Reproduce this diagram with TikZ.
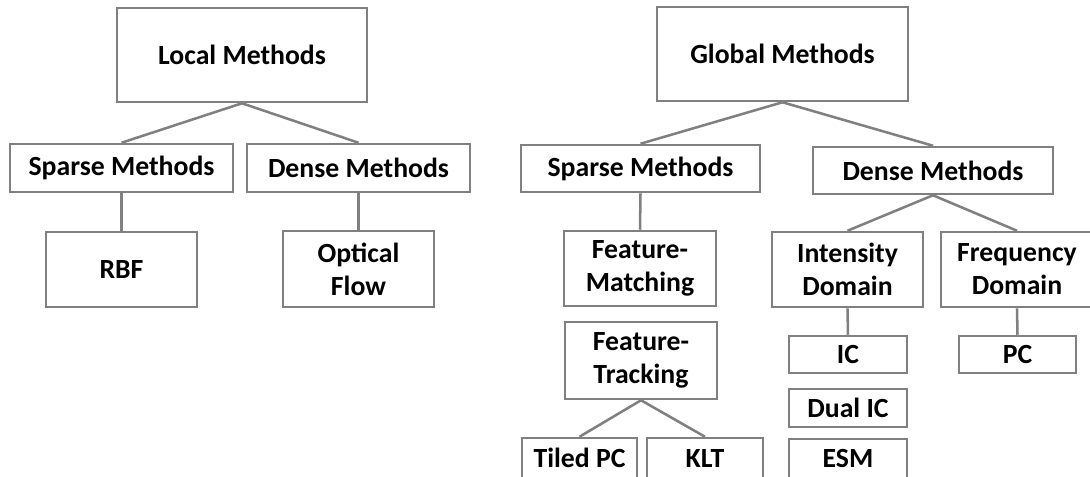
\documentclass[tikz,border=0pt]{standalone}
\usepackage{fontspec}
\setmainfont{Carlito}
\begin{document}
\begin{tikzpicture}[x=0.75pt,y=-0.75pt,
  line width=1.9pt,
  bx/.style 2 args={draw=boxgray, fill=white, rectangle, inner sep=0pt,
    minimum width=#1*0.75pt, minimum height=#2*0.75pt, align=center,
    font=\fontsize{20.8}{24.7}\selectfont\bfseries},
  link/.style={draw=boxgray, line width=1.9pt}]
\definecolor{boxgray}{RGB}{128,128,128}
\clip (0,0) rectangle (1090,476);
\fill[white] (0,0) rectangle (1090,476);

% local methods tree
\node[bx={250}{94}] (lm)  at (242,55)     {Local Methods};
\node[bx={223}{48}] (ls)  at (121.5,168)  {Sparse Methods};
\node[bx={223}{48}] (ld)  at (358.5,168)  {Dense Methods};
\node[bx={151}{75}] (rbf) at (121.5,269.5){RBF};
\node[bx={151}{76}] (of)  at (358.5,269)  {Optical\\Flow};

% global methods tree
\node[bx={251}{94}] (gm)  at (782.5,54)   {Global Methods};
\node[bx={239}{47}] (gs)  at (640.5,168.5){Sparse Methods};
\node[bx={240}{47}] (gd)  at (933,170.5)  {Dense Methods};
\node[bx={152}{75}] (fm)  at (640,268.5)  {Feature-\\Matching};
\node[bx={152}{77}] (ft)  at (641,360.5)  {Feature-\\Tracking};
\node[bx={115}{40}] (tpc) at (579.5,458)  {Tiled PC};
\node[bx={116}{40}] (klt) at (705,458)    {KLT};
\node[bx={151}{75}] (id)  at (847.5,269.5){Intensity\\Domain};
\node[bx={152}{75}] (fd)  at (1017,269.5) {Frequency\\Domain};
\node[bx={118}{37}] (ic)  at (848,354.5)  {IC};
\node[bx={118}{38}] (dic) at (848,408)    {Dual IC};
\node[bx={118}{39}] (esm) at (848,458.5)  {ESM};
\node[bx={117}{37}] (pc)  at (1017.5,354.5){PC};

% connectors
\draw[link] (lm.south) -- (ls.north);
\draw[link] (lm.south) -- (ld.north);
\draw[link] (ls.south) -- (rbf.north);
\draw[link] (ld.south) -- (of.north);
\draw[link] (gm.south) -- (gs.north);
\draw[link] (gm.south) -- (gd.north);
\draw[link] (gs.south) -- (fm.north);
\draw[link] (gd.south) -- (id.north);
\draw[link] (gd.south) -- (fd.north);
\draw[link] (ft.south) -- (tpc.north);
\draw[link] (ft.south) -- (klt.north);
\draw[link] (id.south) -- (ic.north);
\draw[link] (fd.south) -- (pc.north);
\end{tikzpicture}
\end{document}
